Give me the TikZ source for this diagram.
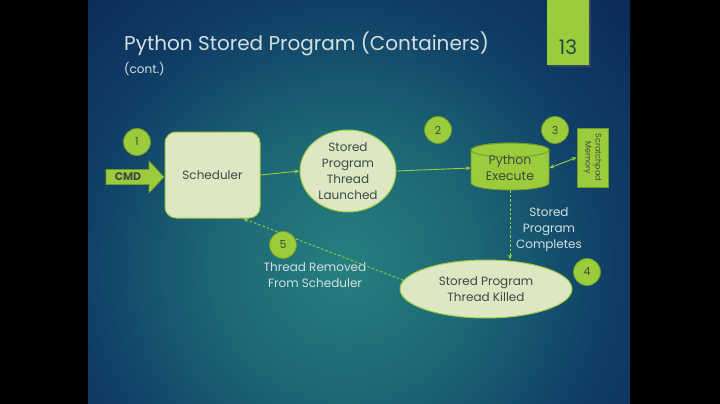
\documentclass[tikz,border=0pt]{standalone}
\usepackage{fontspec}
\setmainfont{Poppins}
\usetikzlibrary{shapes.geometric,shapes.arrows,arrows.meta}
\definecolor{lgreen}{HTML}{9CCB3B}
\definecolor{dgreen}{HTML}{6F9A2C}
\definecolor{cream}{HTML}{DDE7C3}
\definecolor{ntext}{HTML}{3C4A44}
\definecolor{wtext}{HTML}{D4E0E0}
\definecolor{numtext}{HTML}{1F4848}
\pgfdeclareradialshading{slidebg}{\pgfpoint{0bp}{0bp}}{%
 rgb(0bp)=(0.15,0.50,0.50);
 rgb(6bp)=(0.11,0.40,0.46);
 rgb(12bp)=(0.06,0.24,0.40);
 rgb(19bp)=(0.04,0.14,0.33);
 rgb(30bp)=(0.02,0.08,0.26);
 rgb(50bp)=(0.01,0.05,0.20)}
\tikzset{
 numcirc/.style={circle, fill=lgreen, draw=dgreen, line width=0.8pt, minimum size=27pt, inner sep=0pt, text=ntext, font=\fontsize{11}{13}\selectfont},
 creamshape/.style={fill=cream, draw=lgreen, line width=1pt, text=ntext, align=center, inner sep=0pt, font=\fontsize{12}{16}\selectfont},
 conn/.style={draw=lgreen, line width=0.9pt, -{Stealth[length=5pt,width=4pt]}},
 dconn/.style={conn, dashed, dash pattern=on 2.5pt off 2pt},
 wlabel/.style={text=wtext, align=center, font=\fontsize{12}{16}\selectfont}
}
\begin{document}
\begin{tikzpicture}[x=1pt,y=-1pt]
\useasboundingbox (0,0) rectangle (720,404);
\fill[black] (0,0) rectangle (720,404);
\begin{scope}
\clip (88,0) rectangle (630,404);
\shade[shading=slidebg] (345,265) circle (560pt);
\end{scope}
% page number tab
\fill[black!60, opacity=0.4] (549,0) rectangle (591,67);
\node[fill=lgreen, minimum width=42pt, minimum height=65pt, inner sep=0pt, anchor=north] (tab) at (568,0) {};
\node[text=numtext, font=\fontsize{20}{22}\selectfont, anchor=base] (pnum) at (568,55) {13};
% title
\node[text=wtext, font=\fontsize{20}{24}\selectfont, anchor=base west, inner sep=0pt] (title) at (124,51) {Python Stored Program (Containers)};
\node[text=wtext, font=\fontsize{12}{14}\selectfont, anchor=base west, inner sep=0pt] (cont) at (124,74) {(cont.)};
% CMD arrow
\draw[fill=lgreen, draw=dgreen, line width=0.6pt] (106,169.5) -- (149,169.5) -- (149,161) -- (164,177) -- (149,193) -- (149,184.5) -- (106,184.5) -- cycle;
\node[text=ntext, font=\bfseries\fontsize{11}{13}\selectfont, inner sep=0pt] (cmd) at (128,177) {CMD};
% scheduler
\node[creamshape, rectangle, rounded corners=11pt, minimum width=95pt, minimum height=86pt] (sched) at (212.5,175) {Scheduler};
% launched
\node[creamshape, ellipse, minimum width=96pt, minimum height=82pt] (launch) at (348,171) {Stored\\Program\\Thread\\Launched};
% cylinder
\draw[fill=lgreen, draw=dgreen, line width=0.8pt] (471,150) -- (471,183) arc[start angle=180, end angle=0, x radius=39, y radius=7] -- (549,150) arc[start angle=0, end angle=-180, x radius=39, y radius=7] -- cycle;
\draw[draw=dgreen, line width=0.8pt] (510,150) ellipse [x radius=39, y radius=7];
\node[minimum width=78pt, minimum height=44pt, inner sep=0pt, text=ntext, align=center, font=\fontsize{12.5}{16}\selectfont] (py) at (510,168) {\raisebox{-4pt}{\parbox{60pt}{\centering Python\\Execute}}};
% scratchpad memory
\node[fill=lgreen, draw=dgreen, line width=0.8pt, minimum width=31pt, minimum height=59pt, inner sep=0pt] (mem) at (592.5,157.5) {};
\node[rotate=-90, text=ntext, align=center, font=\fontsize{8}{10}\selectfont] (memtxt) at (mem) {Scratchpad\\Memory};
% killed
\node[creamshape, ellipse, minimum width=172pt, minimum height=58pt] (kill) at (486,289) {Stored Program\\Thread Killed};
% labels
\node[wlabel] (lcomp) at (549,230) {Stored\\Program\\Completes};
\node[wlabel] (lrem) at (315,275) {Thread Removed\\From Scheduler};
% numbered circles
\node[numcirc] (n1) at (137,142) {1};
\node[numcirc] (n2) at (438,130) {2};
\node[numcirc] (n3) at (555,130) {3};
\node[numcirc] (n4) at (587,272) {4};
\node[numcirc] (n5) at (283,245) {5};
% connectors
\draw[conn] (sched.east) -- (launch.west);
\draw[conn] (launch.east) -- (py.west);
\draw[conn, {Stealth[length=5pt,width=4pt]}-{Stealth[length=5pt,width=4pt]}] (py.east) -- (mem.west);
\draw[dconn] (py.south) -- (py.south |- kill.north);
\draw[dconn] (kill.174) -- (sched.-55);
\end{tikzpicture}
\end{document}
